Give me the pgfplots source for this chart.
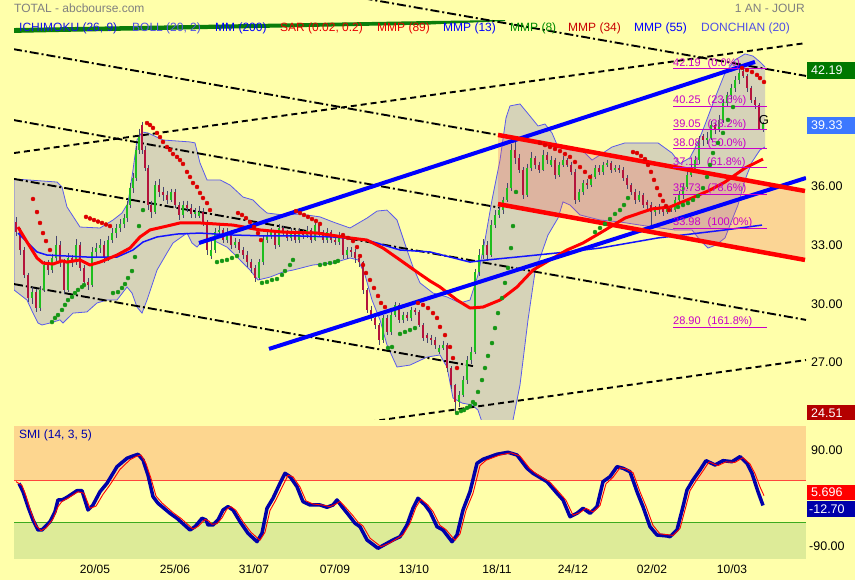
\documentclass[border=0pt]{standalone}
\usepackage{fontspec}
\setmainfont{Liberation Sans}
\usepackage{pgfplots}
\usepackage{pgfplotstable}
\pgfplotsset{compat=1.18}
\newcommand\fs[1]{\fontsize{#1}{#1}\selectfont}
\definecolor{bgy}{RGB}{255,255,170}
\definecolor{bollg}{RGB}{214,211,184}
\definecolor{bollb}{RGB}{90,90,235}
\definecolor{chan}{RGB}{243,90,90}
\definecolor{cgreen}{RGB}{30,190,30}
\definecolor{cred}{RGB}{180,20,60}
\definecolor{wick}{RGB}{70,70,110}
\definecolor{sarred}{RGB}{220,0,0}
\definecolor{sargreen}{RGB}{20,150,20}
\definecolor{fibc}{RGB}{200,0,200}
\definecolor{smiorange}{RGB}{253,214,143}
\definecolor{smigreen}{RGB}{221,235,152}
\definecolor{navy}{RGB}{0,0,170}
\definecolor{gtext}{RGB}{128,128,128}
\definecolor{boxgreen}{RGB}{0,120,0}
\definecolor{boxblue}{RGB}{60,120,255}
\definecolor{boxred}{RGB}{180,0,0}
\definecolor{lgblue}{RGB}{20,20,230}
\definecolor{lgblue2}{RGB}{80,80,230}
\definecolor{lgred}{RGB}{230,0,0}
\definecolor{lgdred}{RGB}{200,0,0}
\definecolor{lggreen}{RGB}{0,140,0}
\definecolor{ichi}{RGB}{10,125,10}

\pgfplotstableread{
x o h l c
16 34.30 34.55 33.60 33.78
20 33.78 34.00 32.60 32.86
24 32.86 33.00 31.40 31.58
28 31.58 31.70 30.20 30.39
32 30.39 30.95 30.10 30.70
36 30.70 30.85 29.70 29.88
40 29.88 31.00 29.75 30.81
44 30.81 32.30 30.70 32.09
48 32.09 32.35 31.60 31.83
52 31.83 32.65 31.70 32.45
56 32.45 33.60 32.30 33.12
60 33.12 33.30 32.00 32.24
64 32.24 32.40 30.60 30.81
68 30.81 32.70 30.70 32.45
72 32.45 32.60 32.00 32.24
76 32.24 33.40 32.10 33.12
80 33.12 33.25 31.80 31.94
84 31.94 32.10 31.00 31.22
88 31.22 31.40 30.80 31.06
92 31.06 33.00 30.95 32.76
96 32.76 33.20 32.50 32.96
100 32.96 33.40 32.70 33.12
104 33.12 33.30 32.20 32.45
108 32.45 33.60 32.30 33.37
112 33.37 34.00 33.20 33.73
116 33.73 34.20 33.50 33.99
120 33.99 34.45 33.80 34.20
124 34.20 34.70 34.00 34.50
127 34.50 35.40 34.30 35.17
130 35.17 36.30 35.00 36.04
133 36.04 36.80 35.80 36.56
136 36.56 38.20 36.40 38.00
139 38.00 39.10 37.80 38.66
142 39.30 39.45 37.80 38.00
145 38.00 38.20 36.90 37.07
148 37.07 37.20 34.90 35.17
151 35.17 35.40 34.50 34.81
155 34.81 36.40 34.70 36.20
159 36.20 36.50 35.60 35.84
163 35.84 36.10 35.40 35.68
167 35.68 35.90 35.20 35.43
171 35.43 36.00 35.30 35.84
175 35.84 36.00 35.00 35.17
179 35.17 35.30 34.40 34.66
183 34.66 35.40 34.50 35.17
187 35.17 35.40 34.80 35.02
191 35.02 35.20 34.50 34.71
195 34.71 35.00 34.50 34.81
199 34.60 35.10 34.50 34.81
203 34.81 35.00 34.10 34.30
207 34.30 34.40 32.60 32.86
211 32.55 33.30 32.40 32.86
215 32.86 34.00 32.70 33.78
219 33.78 34.20 33.60 33.89
223 33.89 34.00 33.20 33.37
227 33.37 34.00 33.20 33.78
231 33.78 33.90 32.90 33.12
235 33.12 33.50 32.95 33.27
239 33.27 33.40 32.70 32.86
243 32.86 33.00 32.40 32.60
247 32.60 32.80 32.00 32.24
251 32.24 32.40 31.70 31.94
255 31.94 32.10 31.20 31.42
259 31.42 32.40 31.30 32.24
263 32.24 33.60 32.10 33.37
267 33.37 33.90 33.20 33.63
271 33.63 34.00 33.40 33.78
275 33.78 33.90 32.90 33.12
279 33.12 34.20 33.00 33.99
283 33.99 34.10 33.60 33.78
287 33.78 33.90 33.30 33.48
291 33.48 34.00 33.30 33.78
295 33.78 33.90 33.20 33.37
299 33.37 34.00 33.20 33.78
303 33.78 33.90 33.40 33.63
307 33.63 34.10 33.50 33.89
311 33.89 34.00 33.20 33.37
315 33.37 34.30 33.30 34.15
319 34.15 34.25 33.60 33.78
323 33.78 33.90 33.20 33.37
327 33.37 34.00 33.20 33.78
331 33.78 33.90 33.20 33.37
335 33.37 33.50 33.10 33.27
339 33.27 33.80 33.10 33.63
343 33.63 33.70 32.40 32.60
347 32.60 33.00 32.40 32.86
351 32.86 33.00 32.50 32.76
355 32.76 32.90 32.20 32.45
359 32.45 32.60 32.00 32.24
363 32.24 32.30 30.60 30.81
367 30.81 30.90 29.60 29.78
371 29.78 30.00 29.20 29.37
375 29.37 29.50 28.80 29.01
379 29.01 29.10 28.00 28.24
383 28.24 29.50 28.10 29.37
387 29.37 29.50 28.50 28.65
391 28.65 29.70 28.50 29.52
395 29.52 30.20 29.40 30.04
399 30.04 30.15 29.10 29.26
403 29.26 29.70 29.10 29.52
407 29.52 29.70 29.20 29.37
411 29.37 29.95 29.20 29.78
415 29.78 29.90 29.50 29.68
419 29.68 29.80 28.90 29.01
423 29.01 29.10 28.20 28.34
427 28.50 28.60 28.10 28.34
431 28.34 28.50 28.00 28.24
435 28.24 28.40 27.80 27.98
439 27.62 28.00 27.50 27.83
443 27.83 28.20 27.70 27.98
447 27.98 28.10 26.60 26.80
451 26.80 26.90 25.70 25.93
455 25.93 26.00 24.51 25.05
459 25.05 25.60 24.80 25.41
463 25.41 26.40 25.30 26.18
467 26.18 27.40 26.00 27.21
471 27.21 27.90 27.00 27.62
475 27.62 31.90 27.50 31.73
479 31.73 32.90 31.50 32.60
483 32.60 33.40 32.40 33.12
487 33.12 33.30 32.30 32.60
491 32.60 34.40 32.50 34.14
495 34.14 34.90 34.00 34.66
499 34.66 35.10 34.50 34.91
503 34.91 35.60 34.70 35.43
507 35.43 36.30 35.30 36.04
511 36.04 38.30 35.90 38.00
515 38.00 38.50 37.30 37.58
519 37.58 37.80 36.80 36.97
523 36.97 37.10 35.50 35.68
527 35.68 37.30 35.60 37.07
531 37.07 37.90 36.90 37.58
535 37.58 37.70 37.00 37.23
539 37.23 37.40 36.80 36.97
543 36.97 38.00 36.90 37.74
547 37.74 37.90 37.30 37.48
551 37.20 37.70 37.10 37.48
555 37.48 37.60 36.50 36.71
559 36.71 37.40 36.60 37.23
563 37.23 37.70 37.10 37.50
567 37.50 37.60 37.10 37.23
571 37.23 37.40 36.70 36.87
575 36.87 37.00 35.20 35.43
579 35.43 36.00 35.30 35.84
583 35.84 36.45 35.70 36.30
587 36.30 36.50 36.00 36.20
591 36.20 36.75 36.10 36.60
595 36.60 37.20 36.50 37.07
599 37.07 37.20 36.70 36.87
603 36.87 37.40 36.70 37.23
607 37.23 37.50 37.10 37.33
611 37.33 37.45 36.80 36.97
615 36.97 37.20 36.85 37.07
619 37.07 37.20 36.80 36.97
623 36.97 37.10 36.40 36.56
627 36.56 36.70 36.00 36.20
631 36.20 36.30 35.70 35.84
635 35.84 36.00 35.20 35.43
639 35.43 35.90 35.30 35.68
643 35.68 35.80 35.00 35.17
647 35.35 35.45 34.90 35.17
651 35.17 35.30 33.98 34.81
655 34.81 35.10 34.60 34.91
659 34.91 35.20 34.70 35.02
663 35.02 35.10 34.60 34.81
667 34.81 35.05 34.70 34.95
671 34.95 35.10 34.80 34.91
675 34.91 35.60 34.80 35.43
679 35.43 35.90 35.30 35.68
683 35.68 36.30 35.50 36.10
687 36.10 36.90 36.00 36.71
691 36.71 37.20 36.60 36.97
695 36.97 37.70 36.80 37.48
699 37.48 38.70 37.30 38.51
703 38.70 38.80 38.20 38.51
707 38.51 38.90 38.30 38.61
711 38.61 39.50 38.50 39.28
715 39.28 39.40 38.80 39.02
719 39.02 39.80 38.90 39.54
723 39.54 40.60 39.40 40.41
727 40.41 41.00 40.20 40.82
731 40.82 41.40 40.60 41.18
735 41.18 41.80 41.00 41.59
739 41.59 42.19 41.40 41.95
743 42.05 42.19 41.70 41.80
747 41.80 41.90 41.00 41.18
751 41.18 41.30 40.40 40.56
755 40.56 40.70 40.10 40.31
759 40.31 40.40 39.00 39.10
763 39.10 39.45 38.90 39.33
}\candles

\pgfplotstableread{
x y
765 38.15
760 38.00
752 37.38
745 36.46
738 35.17
732 34.40
725 33.48
716 33.12
708 32.96
700 33.37
692 33.89
675 33.89
660 33.99
640 34.14
620 34.30
600 34.40
580 34.66
570 35.17
563 35.33
558 34.50
548 33.63
535 31.73
528 29.27
520 25.93
512 23.87
505 22.85
495 22.85
483 23.87
478 24.64
472 24.90
462 25.00
453 25.26
447 26.85
440 27.47
427 27.36
410 26.95
397 26.85
387 27.98
380 29.27
372 30.29
365 31.58
358 32.35
350 32.45
333 32.19
313 32.09
293 31.83
283 31.73
270 31.47
258 31.32
250 31.83
240 32.35
233 32.71
227 33.01
213 33.37
203 33.37
197 33.01
192 33.22
187 33.73
173 33.22
167 32.71
157 31.83
147 30.29
142 29.62
137 29.93
132 30.65
127 30.96
117 30.29
107 30.29
97 30.14
87 29.68
73 29.62
63 29.11
60 29.27
50 29.11
42 29.01
38 29.11
33 29.62
27 30.29
14 30.81
14 36.51
57 36.35
62 36.10
67 35.07
80 34.04
100 33.99
113 34.40
122 34.76
128 35.27
133 36.97
137 38.51
142 38.92
148 38.87
163 38.51
190 38.41
195 38.36
200 37.33
207 36.46
220 36.46
230 36.20
243 35.58
253 35.43
260 35.07
267 34.76
283 34.66
300 34.71
320 34.56
333 34.30
350 33.99
367 34.50
377 34.86
387 34.91
397 34.40
407 32.86
413 31.99
420 31.17
433 30.65
447 30.45
460 30.14
470 30.29
478 31.58
485 33.37
492 35.43
500 37.48
506 39.64
510 40.26
520 40.36
530 39.74
538 39.23
545 39.33
552 38.87
558 38.15
570 38.00
582 38.00
592 37.48
600 37.74
612 38.15
625 38.36
658 38.36
672 37.84
680 37.30
690 37.60
698 38.40
705 39.30
715 40.67
725 41.95
735 42.62
745 42.93
753 42.82
760 42.52
765 42.26
}\boll

\pgfplotstableread{
x y
18 34.04
27 33.27
37 32.45
43 32.19
53 32.14
62 32.30
67 32.24
80 32.35
90 32.09
100 32.24
117 32.60
130 32.96
140 33.53
150 33.89
167 34.09
180 34.25
200 34.25
233 34.14
260 33.89
283 33.78
317 33.73
350 33.48
367 33.37
383 32.96
400 32.35
417 31.73
430 31.27
440 30.96
457 30.29
470 29.88
483 29.93
500 30.29
517 30.96
533 31.83
550 32.35
567 32.86
583 33.22
600 33.73
625 34.50
652 34.97
670 35.07
692 35.53
710 35.94
725 36.35
745 37.07
763 37.53
}\mared

\pgfplotstableread{
x y
18 33.73
27 33.27
37 32.76
47 32.60
67 32.55
87 32.50
117 32.50
133 32.86
143 33.27
157 33.53
177 33.68
200 33.73
233 33.63
267 33.58
300 33.58
333 33.53
367 33.37
400 32.86
430 32.76
450 32.50
470 32.24
487 32.35
517 32.50
567 32.76
600 32.96
658 33.48
725 33.89
762 34.14
}\mmblue

\pgfplotstableread{
x v
19 28.9
23 13.1
28 -15.0
33 -39.9
38 -58.7
42 -58.7
50 -43.1
55 -24.4
58 -2.4
62 -2.4
67 2.6
77 15.0
82 15.0
88 -21.2
93 -11.8
100 13.1
107 28.9
117 60.0
127 75.8
133 80.1
138 83.3
143 72.6
148 44.4
153 3.8
158 -8.6
170 -27.4
177 -36.8
190 -58.7
195 -52.5
202 -36.8
206 -39.9
208 -49.3
213 -49.3
218 -39.9
223 -21.2
228 -15.0
233 -21.2
240 -43.1
248 -64.9
257 -80.6
262 -64.9
267 -18.0
273 0.8
280 28.9
285 47.6
290 41.3
297 22.5
303 -5.6
310 -11.8
320 -11.8
327 -16.1
333 -11.8
337 -2.4
342 -15.0
350 -33.8
355 -46.1
360 -52.5
367 -77.4
378 -93.0
387 -83.6
393 -77.4
400 -71.3
407 -49.3
413 -18.0
418 0.8
425 -11.8
430 -24.4
437 -52.5
443 -58.7
452 -80.6
457 -68.1
463 -21.2
470 13.1
477 66.4
483 73.9
497 83.3
508 87.0
517 81.9
527 57.0
533 47.6
547 31.9
557 10.1
563 -2.4
570 -33.8
577 -27.4
583 -18.0
590 -27.4
597 -15.0
603 31.9
610 41.3
617 60.0
623 57.0
630 50.6
637 13.1
643 -15.0
650 -52.5
657 -68.1
667 -69.9
670 -71.3
677 -58.7
683 -15.0
687 16.3
693 35.1
700 53.8
706 71.3
715 63.2
723 71.3
732 69.4
740 78.8
747 66.4
752 47.6
758 13.1
763 -12.7
}\smiblue

\pgfplotstableread{
x v
16 32
22 25
26 5
31 -25
36 -50
41 -60
46 -55
53 -38
58 -15
62 -5
68 1
78 13
84 10
90 -18
96 -14
103 8
110 26
120 55
130 73
136 79
141 82
146 66
151 38
156 5
162 -8
173 -26
181 -37
193 -57
198 -52
205 -39
209 -42
212 -48
217 -47
222 -36
227 -19
231 -15
236 -22
243 -43
251 -63
260 -78
265 -63
270 -22
276 -2
283 25
288 44
293 41
300 22
306 -4
313 -10
323 -12
330 -15
336 -10
340 -5
345 -15
353 -32
358 -44
363 -51
370 -74
381 -90
390 -83
396 -76
403 -68
410 -46
416 -16
421 -1
428 -12
433 -24
440 -50
446 -58
455 -78
460 -66
466 -22
473 10
480 62
486 72
500 82
511 86
520 80
530 56
536 47
550 31
560 10
566 -3
573 -31
580 -26
586 -18
593 -25
600 -13
606 28
613 40
620 58
626 56
633 49
640 13
646 -14
653 -50
660 -66
670 -68
673 -69
680 -56
686 -14
690 15
696 33
703 52
709 69
718 62
726 69
735 68
743 77
750 65
755 47
760 22
764 5.7
}\smired

\begin{document}
\begin{tikzpicture}
\useasboundingbox (0,0) rectangle (855pt,580pt);
\fill[bgy] (0,0) rectangle (855pt,580pt);

\begin{axis}[at={(14pt,160pt)}, anchor=south west, width=792pt, height=420pt,
  scale only axis, xmin=14, xmax=806, ymin=24.13, ymax=45.70, hide axis]
% Bollinger band
\addplot[fill=bollg, draw=bollb, line width=0.8pt] table[x=x,y=y] {\boll};
% channel fill
\addplot[fill=chan, fill opacity=0.25, draw=none] coordinates {(498,38.77) (805,35.89) (805,32.35) (498,35.22)};
% green line at top
\addplot[fill=ichi, draw=none] coordinates {(14,44.26) (430,44.62) (505,44.67) (505,44.62) (430,44.44) (14,44.01)};
% dashed channel
\addplot[black, line width=1.9pt, dash pattern=on 6pt off 4pt] coordinates {(14,37.84) (806,43.49)};
\addplot[black, line width=1.9pt, dash pattern=on 6pt off 4pt] coordinates {(300,23.54) (806,27.21)};
% dash-dot lines
\addplot[black, line width=1.9pt, dash pattern=on 9pt off 3pt on 2pt off 3pt] coordinates {(330,46.09) (806,41.80)};
\addplot[black, line width=1.9pt, dash pattern=on 9pt off 3pt on 2pt off 3pt] coordinates {(13,43.18) (498,38.77)};
\addplot[black, line width=1.9pt, dash pattern=on 9pt off 3pt on 2pt off 3pt] coordinates {(13,39.54) (500,35.03)};
\addplot[black, line width=1.9pt, dash pattern=on 9pt off 3pt on 2pt off 3pt] coordinates {(14,36.51) (806,29.27)};
\addplot[black, line width=1.9pt, dash pattern=on 9pt off 3pt on 2pt off 3pt] coordinates {(14,31.11) (473,26.90)};
% candles: wicks
\addplot[draw=none, mark=none, error bars/.cd, y dir=minus, y explicit, error mark=none,
  error bar style={draw=wick, line width=0.8pt}]
  table[x=x, y=h, y error minus expr={\thisrow{h}-\thisrow{l}}] {\candles};
% up bodies
\addplot[draw=none, mark=none, error bars/.cd, y dir=minus, y explicit, error mark=none,
  error bar style={draw=cgreen, line width=2.6pt}]
  table[x=x, y=c, y error minus expr={max(\thisrow{c}-\thisrow{o},0)}] {\candles};
% down bodies
\addplot[draw=none, mark=none, error bars/.cd, y dir=minus, y explicit, error mark=none,
  error bar style={draw=cred, line width=2.6pt}]
  table[x=x, y=o, y error minus expr={max(\thisrow{o}-\thisrow{c},0)}] {\candles};
% moving averages
\addplot[color={rgb,255:red,20;green,20;blue,255}, line width=1.5pt, line join=round] table[x=x,y=y] {\mmblue};
\addplot[red, line width=3pt, line join=round] table[x=x,y=y] {\mared};
% SAR
\addplot[only marks, mark=*, mark size=2pt, mark options={draw=sarred, fill=sarred}] coordinates {
(33,35.48) (37,34.81) (40,34.25) (43,33.73) (46,33.32) (50,32.86)
(86,34.56) (90,34.48) (94,34.40) (98,34.32) (102,34.25) (106,34.17) (110,34.09)
(147,39.38) (150,39.28) (153,39.13) (157,38.87) (160,38.66) (163,38.41) (167,38.15) (170,38.00) (173,37.79) (177,37.64) (180,37.48) (183,37.28) (187,36.87) (190,36.61) (193,36.30) (197,36.10) (200,35.79) (203,35.53) (207,35.27) (210,34.91)
(238,34.76) (242,34.66) (246,34.50) (250,34.30) (254,34.04) (258,33.73) (261,33.37)
(296,34.86) (300,34.76) (304,34.66) (308,34.56) (312,34.45) (316,34.35) (320,34.20)
(343,33.63) (348,33.48) (353,33.32) (357,33.01) (360,32.55) (363,32.09) (366,31.68) (370,31.32) (374,30.91) (378,30.50) (381,30.14) (385,29.93)
(418,30.14) (423,30.04) (428,29.88) (433,29.62) (437,29.37) (440,28.91) (445,28.49) (450,27.88) (453,27.31) (457,26.80)
(540,38.36) (545,38.25) (550,38.15) (555,38.05) (560,37.94) (565,37.79) (570,37.64) (575,37.38) (580,37.12) (585,36.87) (590,36.61)
(633,37.89) (637,37.84) (641,37.69) (645,37.53) (648,37.23) (651,36.87) (654,36.46) (657,36.04) (660,35.68) (663,35.38) (666,35.12) (669,34.91)
(742,42.21) (747,42.10) (752,42.00) (757,41.85) (760,41.69) (764,41.49)
};
\addplot[only marks, mark=*, mark size=2pt, mark options={draw=sargreen, fill=sargreen}] coordinates {
(52,29.16) (55,29.37) (58,29.52) (62,29.78) (65,30.04) (68,30.29) (72,30.45) (75,30.65) (78,30.81) (82,30.96) (84,31.06)
(113,30.65) (118,30.70) (122,30.91) (125,31.11) (128,31.42) (132,31.78) (135,32.50) (139,34.09) (143,34.91)
(217,32.24) (222,32.30) (227,32.35) (232,32.45) (237,32.55)
(262,31.17) (267,31.22) (272,31.32) (277,31.37) (282,31.58) (285,31.78) (290,32.09) (293,32.35)
(320,32.09) (325,32.14) (330,32.19) (335,32.24) (338,32.30)
(388,27.83) (392,27.88) (400,28.55) (405,28.65) (410,28.75) (415,28.85)
(457,24.49) (461,24.59) (464,24.64) (467,24.75) (470,24.85) (473,25.05)
(475,24.95) (478,25.57) (482,26.18) (485,26.80) (488,27.42) (492,28.08) (495,28.85) (498,29.62) (502,30.39) (505,31.17) (508,31.94) (511,32.96) (513,34.09) (516,35.84)
(595,33.78) (600,33.99) (605,34.20) (610,34.45) (615,34.71) (620,34.91) (624,35.17) (628,35.53)
(678,35.07) (683,35.17) (688,35.27) (693,35.43) (698,35.63) (703,36.04) (707,36.61) (710,37.23) (713,37.84) (718,38.36) (723,38.87) (728,39.54) (733,40.20)
};
% trend lines
\addplot[blue, line width=4pt] coordinates {(199,33.22) (755,42.52)};
\addplot[blue, line width=4pt] coordinates {(269,27.78) (806,36.56)};
\addplot[red, line width=4.5pt] coordinates {(498,38.77) (805,35.89)};
\addplot[red, line width=4.5pt] coordinates {(498,35.22) (805,32.35)};
% fibonacci
\addplot[fibc, line width=0.9pt] coordinates {(673,42.19) (767,42.19)};
\addplot[fibc, line width=0.9pt] coordinates {(673,40.25) (767,40.25)};
\addplot[fibc, line width=0.9pt] coordinates {(673,39.05) (767,39.05)};
\addplot[fibc, line width=0.9pt] coordinates {(673,38.08) (767,38.08)};
\addplot[fibc, line width=0.9pt] coordinates {(673,37.11) (767,37.11)};
\addplot[fibc, line width=0.9pt] coordinates {(673,35.73) (767,35.73)};
\addplot[fibc, line width=0.9pt] coordinates {(673,33.98) (767,33.98)};
\addplot[fibc, line width=0.9pt] coordinates {(673,28.90) (767,28.90)};
\begin{scope}[every node/.style={anchor=base west, inner sep=0pt, text=fibc, font=\fs{11}, yshift=2.2pt}]
\node at (axis cs:673,42.19) {42.19\hspace{7pt}(0.0\%)};
\node at (axis cs:673,40.25) {40.25\hspace{7pt}(23.6\%)};
\node at (axis cs:673,39.05) {39.05\hspace{7pt}(38.2\%)};
\node at (axis cs:673,38.08) {38.08\hspace{7pt}(50.0\%)};
\node at (axis cs:673,37.11) {37.11\hspace{7pt}(61.8\%)};
\node at (axis cs:673,35.73) {35.73\hspace{7pt}(78.6\%)};
\node at (axis cs:673,33.98) {33.98\hspace{7pt}(100.0\%)};
\node at (axis cs:673,28.90) {28.90\hspace{7pt}(161.8\%)};
\end{scope}
\node[font=\fs{13}, inner sep=0pt] at (axis cs:764,39.55) {G};
\end{axis}

\begin{axis}[at={(14pt,21pt)}, anchor=south west, width=792pt, height=133pt,
  scale only axis, xmin=14, xmax=806, ymin=-113.1, ymax=136.3,
  axis line style={draw=none}, tick style={draw=none}, major tick length=0pt,
  ytick=\empty, xtick={95,175,254,335,414,497,573,652,732},
  xticklabels={20/05,25/06,31/07,07/09,13/10,18/11,24/12,02/02,10/03},
  xticklabel style={font=\fs{12}, yshift=-2pt}]
\addplot[fill=smiorange, draw=none] coordinates {(14,33.75) (806,33.75) (806,136.3) (14,136.3)};
\addplot[fill=smigreen, draw=none] coordinates {(14,-44.25) (806,-44.25) (806,-113.1) (14,-113.1)};
\addplot[color={rgb,255:red,255;green,70;blue,60}, line width=0.8pt] coordinates {(14,33.75) (806,33.75)};
\addplot[color={rgb,255:red,60;green,170;blue,30}, line width=0.8pt] coordinates {(14,-44.25) (806,-44.25)};
\addplot[navy, line width=3.5pt, line join=round] table[x=x,y=v] {\smiblue};
\addplot[red, line width=0.9pt, line join=round] table[x=x,y=v] {\smired};
\end{axis}

% header texts
\node[anchor=west, inner sep=0pt, text=gtext, font=\fs{12}] at (14pt,572pt) {TOTAL - abcbourse.com};
\node[anchor=east, inner sep=0pt, text=gtext, font=\fs{12}] at (805pt,572pt) {1 AN - JOUR};
\begin{scope}[every node/.style={anchor=west, inner sep=0pt, font=\fs{12}}]
\node[text=lgblue] at (19pt,552pt) {ICHIMOKU (26, 9)};
\node[text=lgblue2] at (132pt,552pt) {BOLL (20, 2)};
\node[text=blue] at (215pt,552pt) {MM (200)};
\node[text=lgred] at (280pt,552pt) {SAR (0.02, 0.2)};
\node[text=lgred] at (377pt,552pt) {MMP (89)};
\node[text=blue] at (443pt,552pt) {MMP (13)};
\node[text=lggreen] at (510pt,552pt) {MMP (8)};
\node[text=lgdred] at (568pt,552pt) {MMP (34)};
\node[text=blue] at (634pt,552pt) {MMP (55)};
\node[text=lgblue2] at (701pt,552pt) {DONCHIAN (20)};
\node[text=navy] at (19pt,145pt) {SMI (14, 3, 5)};
\end{scope}
% right labels
\fill[boxgreen] (807pt,501pt) rectangle (855pt,518pt);
\fill[boxblue] (807pt,446pt) rectangle (855pt,463pt);
\fill[boxred] (807pt,160pt) rectangle (855pt,174.5pt);
\fill[red] (807pt,80pt) rectangle (855pt,95pt);
\fill[navy] (807pt,63pt) rectangle (855pt,79pt);
\begin{scope}[every node/.style={anchor=west, inner sep=0pt, font=\fs{12.5}}]
\node[text=white] at (811pt,509.5pt) {42.19};
\node[text=white] at (811pt,454.5pt) {39.33};
\node at (811pt,393.3pt) {36.00};
\node at (811pt,334.3pt) {33.00};
\node at (811pt,276pt) {30.00};
\node at (811pt,218pt) {27.00};
\node[text=white] at (811pt,167pt) {24.51};
\node at (811pt,129.3pt) {90.00};
\node[text=white] at (811pt,87.5pt) {5.696};
\node[text=white] at (809pt,71pt) {-12.70};
\node at (809pt,33.3pt) {-90.00};
\end{scope}
\end{tikzpicture}
\end{document}
